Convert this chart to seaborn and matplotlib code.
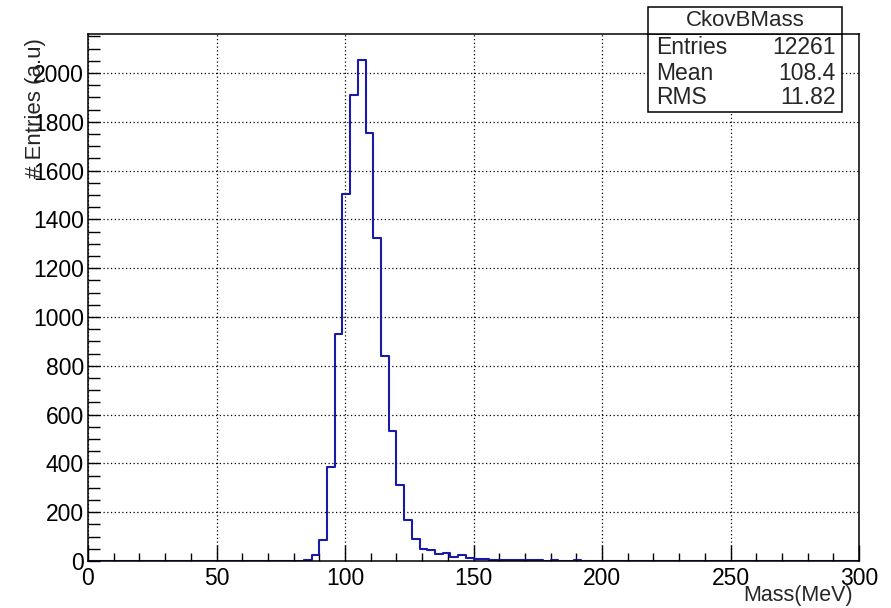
import numpy as np
import pandas as pd
import matplotlib
matplotlib.use("Agg")
import matplotlib.pyplot as plt
import seaborn as sns
from matplotlib.patches import Rectangle
from matplotlib.ticker import MultipleLocator

# ---- data (3 MeV bins from 0 to 300) ----
bin_edges = list(range(0, 303, 3))
counts_low = [0] * 28
counts_peak = [3, 23, 85, 385, 929, 1504, 1909, 2053, 1756, 1322, 839, 531,
               313, 168, 92, 50, 45, 27, 34, 15, 26, 12, 10, 8, 4, 5, 4, 3, 4]
counts_tail = [3, 3, 2, 3, 2, 2, 3, 1, 2, 1, 2, 2, 1, 1, 1, 0, 1, 2, 2, 2, 1,
               1, 1, 0, 0, 1, 1, 0, 0, 0, 1, 1, 0, 1, 0, 1, 0, 0, 0, 1, 1, 1, 0]
counts = counts_low + counts_peak + counts_tail

stats_title = "CkovBMass"
stats_names = ["Entries", "Mean", "RMS"]
stats_values = ["12261", "108.4", "11.82"]
x_label = "Mass(MeV)"
y_label = "# Entries (a.u)"

centers = [(bin_edges[i] + bin_edges[i + 1]) / 2 for i in range(len(counts))]
df = pd.DataFrame({"mass": centers, "n": counts})

sns.set_style("ticks")
plt.rcParams["font.family"] = ["Liberation Sans", "DejaVu Sans"]

fig = plt.figure(figsize=(8.91, 6.08), dpi=100)
ax = fig.add_axes([88 / 891, 1 - 561 / 608, (859 - 88) / 891, (561 - 34) / 608])

sns.histplot(data=df, x="mass", weights="n", bins=bin_edges, element="step",
             fill=False, color="#1a1aa8", linewidth=1.5, ax=ax)

ax.set_xlim(0, 300)
ax.set_ylim(0, 2160)
ax.set_xlabel("")
ax.set_ylabel("")

ax.xaxis.set_major_locator(MultipleLocator(50))
ax.xaxis.set_minor_locator(MultipleLocator(10))
ax.yaxis.set_major_locator(MultipleLocator(200))
ax.yaxis.set_minor_locator(MultipleLocator(50))

ax.tick_params(axis="x", which="major", direction="in", length=11.5, width=1.0,
               labelsize=16.5, pad=4.0, color="black", labelcolor="black")
ax.tick_params(axis="x", which="minor", direction="in", length=5.8, width=1.0, color="black")
ax.tick_params(axis="y", which="major", direction="in", length=8.6, width=1.0,
               labelsize=16.5, pad=3.0, color="black", labelcolor="black")
ax.tick_params(axis="y", which="minor", direction="in", length=8.6, width=1.0, color="black")

ax.grid(True, which="major", color="black", linestyle=(0, (1, 2)), linewidth=0.9)
ax.set_axisbelow(True)
for s in ax.spines.values():
    s.set_visible(True)
    s.set_color("black")
    s.set_linewidth(1.1)
    s.set_zorder(3)

# axis titles (ROOT style)
fig.text(35 / 891, 1 - 38 / 608, y_label, rotation=90, ha="center", va="top", fontsize=16)
fig.text(853 / 891, 1 - 596 / 608, x_label, ha="right", va="center", fontsize=15.5)

# stats box
x0, x1 = 648 / 891, 842 / 891
y_top, y_div, y_bot = 1 - 7 / 608, 1 - 34 / 608, 1 - 112 / 608
fig.patches.append(Rectangle((x0, y_bot), x1 - x0, y_div - y_bot, transform=fig.transFigure,
                             facecolor="white", edgecolor="black", linewidth=1.1, zorder=5))
fig.patches.append(Rectangle((x0, y_div), x1 - x0, y_top - y_div, transform=fig.transFigure,
                             facecolor="white", edgecolor="black", linewidth=1.1, zorder=5))
fig.text((x0 + x1) / 2, 1 - 20.5 / 608, stats_title, ha="center", va="center", fontsize=16, zorder=6)
row_y = [47, 73, 98]
for name, val, yy in zip(stats_names, stats_values, row_y):
    fig.text(656 / 891, 1 - yy / 608, name, ha="left", va="center", fontsize=16.5, zorder=6)
    fig.text(836 / 891, 1 - yy / 608, val, ha="right", va="center", fontsize=16.5, zorder=6)

fig.savefig("out.png", dpi=100, facecolor="white")
